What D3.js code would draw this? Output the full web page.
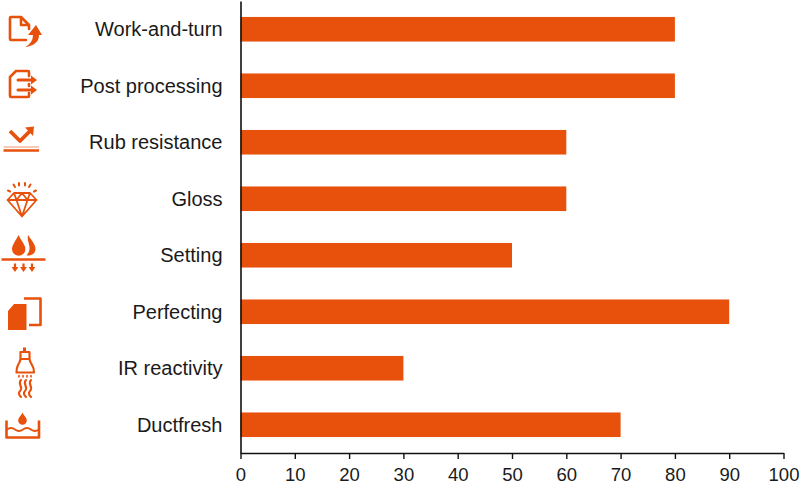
<!DOCTYPE html>
<html>
<head>
<meta charset="utf-8">
<script src="https://cdn.jsdelivr.net/npm/d3@7.9.0/dist/d3.min.js"></script>
<style>
    body { margin: 0; background: #fff; }
    svg { display: block; }
    text { font-family: "Liberation Sans", Arial, sans-serif; fill: #1a1a1a; }
</style>
</head>
<body>
<svg id="chart" width="800" height="485"></svg>
<script>
const categories = ['Work-and-turn', 'Post processing', 'Rub resistance', 'Gloss', 'Setting', 'Perfecting', 'IR reactivity', 'Ductfresh'];
const values = [80, 80, 60, 60, 50, 90, 30, 70];
const xTicks = [0, 10, 20, 30, 40, 50, 60, 70, 80, 90, 100];

const orange = '#e8510c';
const ink = '#111';

const width = 800;
const height = 485;
const margin = { top: 1, right: 16.5, bottom: 32, left: 240.5 };

const svg = d3.select('#chart');

const xScale = d3.scaleLinear()
    .domain([0, 100])
    .range([margin.left, width - margin.right]);

const yScale = d3.scaleBand()
    .domain(categories)
    .range([margin.top, height - margin.bottom])
    .paddingInner(0.565)
    .paddingOuter(0.2825);

// Bars
svg.append('g')
    .selectAll('rect')
    .data(categories)
    .join('rect')
    .attr('x', xScale(0))
    .attr('y', (d) => yScale(d))
    .attr('width', (d, i) => xScale(values[i]) - xScale(0))
    .attr('height', yScale.bandwidth())
    .attr('fill', orange);

// X axis
const xAxis = svg.append('g')
    .attr('transform', `translate(0, ${height - margin.bottom})`)
    .call(d3.axisBottom(xScale).tickValues(xTicks).tickSize(6).tickSizeOuter(0).tickPadding(9));
xAxis.select('.domain').attr('stroke', ink).attr('stroke-width', 1.6);
xAxis.selectAll('.tick line').attr('stroke', ink).attr('stroke-width', 1.4);
xAxis.selectAll('text').attr('font-size', 18.5).attr('font-family', '"Liberation Sans", Arial, sans-serif');

// Y axis, no ticks, labels sit a bit away from the line
const yAxis = svg.append('g')
    .attr('transform', `translate(${margin.left}, 0)`)
    .call(d3.axisLeft(yScale).tickSize(0).tickPadding(18));
yAxis.select('.domain').attr('stroke', ink).attr('stroke-width', 1.6);
yAxis.selectAll('text').attr('font-size', 20).attr('dy', '0.34em').attr('font-family', '"Liberation Sans", Arial, sans-serif');

// Icons in the left column, drawn in page pixels
const icons = svg.append('g')
    .attr('fill', 'none')
    .attr('stroke', orange)
    .attr('stroke-width', 2)
    .attr('stroke-linejoin', 'round')
    .attr('stroke-linecap', 'round');

function line(d, w) {
    return icons.append('path').attr('d', d).attr('stroke-width', w || 2);
}
function solid(d) {
    return icons.append('path').attr('d', d).attr('fill', orange).attr('stroke', 'none');
}

// work-and-turn
line('M26 40H11Q10 40 10 39V18Q10 17 11 17H21L29 25V29M21 17V25H29', 2.6);
solid('M25 47Q33 43 33 35H28L36 25L42 35H39Q39 45 25 47Z');

// post processing
line('M29 76V72Q29 71 28 71H16L10 77V96Q10 97 11 97H28Q29 97 29 96V93', 2.6);
line('M18 80H32', 3);
line('M29 84V86', 2.6);
line('M18 90H32', 3);
solid('M31 75.5L37 80L31 84.5Z');
solid('M31 85.5L37 90L31 94.5Z');

// rub resistance
line('M10 131L20 141L31 130', 3.8).attr('stroke-linecap', 'butt');
solid('M25 127.5L34 126.5L33 136Z');
line('M3.5 147H39', 1.2).attr('stroke-opacity', 0.6).attr('stroke-linecap', 'butt');
line('M3.5 150.5H39', 2.6).attr('stroke-linecap', 'butt');

// gloss
line('M14 193H30L36.5 200L22 216.5L7.5 200ZM7.5 200H36.5M14 193L16.5 200L22 216.5L27.5 200L30 193M16.5 200L22 193L27.5 200', 1.8);
line('M13.5 184.5L15 187M19 183V185.5M25 183V185.5M30.5 184.5L29 187M8 190.5L10 191.5M36 190.5L34 191.5', 2);

// setting
solid('M18.5 235C15.5 241 12 245 12 249A6.7 6.7 0 0 0 25.4 249C25.4 245 21.5 241 18.5 235Z');
solid('M28 235C31 240 35.5 244 35.5 249C35.5 253 32 256 26.5 255.5C28.5 253 29.8 250.5 29.5 247C29.2 243 27 240 28 235Z');
line('M1.5 259.5H45.5', 2.6).attr('stroke-linecap', 'butt');
for (const x of [15, 23.5, 32]) {
    line(`M${x} 263.5V268`, 2.2).attr('stroke-linecap', 'butt');
    solid(`M${x - 3.4} 267H${x + 3.4}L${x} 272Z`);
}

// perfecting
solid('M8 311L14 304H26.5V330H8Z');
line('M24 298.5H40.5V325H29', 2.6).attr('stroke-linecap', 'butt');

// IR reactivity
line('M24.5 347.5V351', 3).attr('stroke-linecap', 'butt');
line('M20.5 352H29.5V359H20.5ZM20.5 359Q20 362 18 365Q16.5 368 16.5 372.5H34Q34 368 32 365Q30 362 29.5 359', 2.2);
line('M19 375.5V377M23 375.5V377M27 375.5V377M31 375.5V377', 1.6);
line('M21 380C17 384 24 387 20 391C18 393 19 395 21 397', 2.1);
line('M26 380C22 384 29 387 25 391C23 393 24 395 26 397', 2.1);
line('M31 380C27 384 34 387 30 391C28 393 29 395 31 397', 2.1);

// ductfresh
solid('M22.5 412.5C21 416 18.2 417.5 18.2 420.5A4.3 4.3 0 0 0 26.8 420.5C26.8 417.5 24 416 22.5 412.5Z');
line('M6.5 420.5V437.5H39V420.5', 2.6).attr('stroke-linecap', 'butt');
line('M7 429.5Q11 426.5 15 429.5T23 429.5T31 429.5T39 429.5', 1.8);
</script>
</body>
</html>
